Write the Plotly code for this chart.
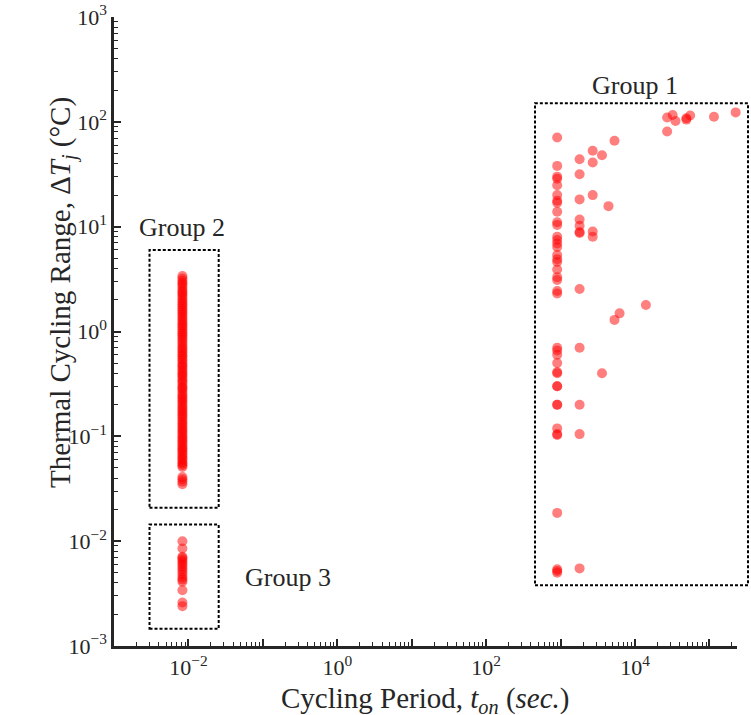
import plotly.graph_objects as go

# ---- Data ----
# Group 1: long cycling periods
g1_x = [900]*40 + [1800]*10 + [2700]*5 + [3600]*2 + [4400] + [5300]*2 + [6200] + [14000] \
       + [27000]*2 + [32000] + [35000] + [49000]*2 + [55000] + [115000] + [225000]
g1_y = [71, 38, 30, 28.6, 24.8, 20, 17.7, 16.9, 13.9, 11, 10.4, 8.0, 7.45, 6.9, 6.4, 5.36, 4.9, 4.6,
        3.9, 3.3, 3.1, 2.43, 2.3, 0.70, 0.66, 0.60, 0.50, 0.41, 0.40, 0.30, 0.30, 0.20, 0.20, 0.119,
        0.105, 0.103, 0.0186, 0.0052, 0.0050, 0.0054,
        44, 31.6, 18.2, 11.7, 10.2, 8.7, 8.9, 2.54, 0.70, 0.105,
        53, 41, 20, 9.0, 8.0,
        48, 0.40,
        15.7,
        66, 1.29,
        1.49,
        1.79,
        110, 81,
        116,
        102,
        108, 105,
        115,
        112,
        123]
g1_extra_x = [1800, 1800]
g1_extra_y = [0.20, 0.0055]

# Group 2: short cycling periods, medium range
g2_y = [0.035, 0.037, 0.039, 0.041, 0.051, 0.053, 0.055, 0.057, 0.060, 0.062, 0.065, 0.068,
        0.071, 0.074, 0.077, 0.080, 0.084, 0.088, 0.092, 0.096, 0.10, 0.105, 0.11, 0.115,
        0.12, 0.126, 0.132, 0.138, 0.145, 0.152, 0.159, 0.166, 0.174, 0.182, 0.19, 0.20,
        0.21, 0.22, 0.23, 0.24, 0.25, 0.265, 0.28, 0.29, 0.30, 0.32, 0.335, 0.35, 0.37,
        0.385, 0.40, 0.42, 0.44, 0.46, 0.48, 0.50, 0.53, 0.55, 0.58, 0.60, 0.63, 0.66, 0.69,
        0.72, 0.76, 0.80, 0.84, 0.88, 0.92, 0.96, 1.0, 1.05, 1.1, 1.15, 1.2, 1.26, 1.32,
        1.38, 1.45, 1.52, 1.59, 1.66, 1.74, 1.82, 1.9, 2.0, 2.1, 2.2, 2.3, 2.4, 2.5, 2.65,
        2.8, 2.9, 3.05, 3.2, 3.38]
g2_x = [0.0083]*len(g2_y)

# Group 3: short cycling periods, small range
g3_y = [0.0024, 0.0026, 0.0034, 0.0041, 0.0043, 0.0045, 0.0048, 0.0051, 0.0054, 0.0057,
        0.0060, 0.0063, 0.0066, 0.0069, 0.0071, 0.0085, 0.0100]
g3_x = [0.0083]*len(g3_y)

x_tickvals = [10.0**k for k in range(-3, 6)]
x_ticktext = ["", "10<sup>−2</sup>", "", "10<sup>0</sup>", "", "10<sup>2</sup>", "", "10<sup>4</sup>", ""]
y_tickvals = [10.0**k for k in range(-3, 4)]
y_ticktext = ["10<sup>−3</sup>", "10<sup>−2</sup>", "10<sup>−1</sup>", "10<sup>0</sup>",
              "10<sup>1</sup>", "10<sup>2</sup>", "10<sup>3</sup>"]

FONT = "Liberation Serif"
RED = "rgba(255,0,0,0.5)"
TXT = "#262626"

fig = go.Figure()
for xs, ys in [(g1_x, g1_y), (g1_extra_x, g1_extra_y), (g2_x, g2_y), (g3_x, g3_y)]:
    fig.add_trace(go.Scatter(x=xs, y=ys, mode="markers",
                             marker=dict(size=10, color=RED, line=dict(width=0)),
                             showlegend=False, cliponaxis=False))

minor_x = [m * 10.0**k for k in range(-3, 6) for m in range(2, 10) if m * 10.0**k < 2.3e5]
minor_y = [m * 10.0**k for k in range(-3, 3) for m in range(2, 10)]
axcol = "#262626"

fig.update_xaxes(type="log", range=[-3, 5.37], tickmode="array", tickvals=x_tickvals,
                 ticktext=x_ticktext, ticks="inside", ticklen=7, tickwidth=1.5, tickcolor=axcol,
                 showline=True, linewidth=2.5, linecolor=axcol, showgrid=False, zeroline=False,
                 automargin=False, ticklabeloverflow="allow",
                 minor=dict(tickmode="array", tickvals=minor_x, ticks="inside", ticklen=4,
                            tickwidth=1.2, tickcolor=axcol, showgrid=False),
                 tickfont=dict(family=FONT, size=22, color=TXT))
fig.update_yaxes(type="log", range=[-3, 3], tickmode="array", tickvals=y_tickvals,
                 ticktext=y_ticktext, ticks="inside", ticklen=7, tickwidth=1.5, tickcolor=axcol,
                 showline=True, linewidth=2.5, linecolor=axcol, showgrid=False, zeroline=False,
                 automargin=False, ticklabeloverflow="allow",
                 minor=dict(tickmode="array", tickvals=minor_y, ticks="inside", ticklen=4,
                            tickwidth=1.2, tickcolor=axcol, showgrid=False),
                 tickfont=dict(family=FONT, size=22, color=TXT))

# Axis titles as annotations for exact placement
fig.add_annotation(xref="paper", yref="paper", x=0.5, y=0, yanchor="middle", yshift=-54,
                   text="Cycling Period, <i>t<sub>on</sub></i> (<i>sec.</i>)", showarrow=False,
                   font=dict(family=FONT, size=29, color=TXT))
fig.add_annotation(xref="paper", yref="paper", x=0, xshift=-72, y=0.562, textangle=-90,
                   text="Thermal Cycling Range, Δ<i>T<sub>j</sub></i> (°C)", showarrow=False,
                   font=dict(family=FONT, size=29, color=TXT))

box_line = dict(color="black", width=2, dash="3px,2px")
# Group 2 and 3 boxes (data coords)
fig.add_shape(type="rect", xref="x", yref="y", x0=0.0030, x1=0.0255, y0=0.0208, y1=6.0, line=box_line)
fig.add_shape(type="rect", xref="x", yref="y", x0=0.0030, x1=0.0255, y0=0.00146, y1=0.0144, line=box_line)
# Group 1 box extends past the axis end
fig.add_shape(type="rect", xref="paper", yref="y", x0=(535-114)/623, x1=(748-114)/623,
              y0=0.0038, y1=150, line=box_line)

ann_font = dict(family=FONT, size=26, color=TXT)
fig.add_annotation(x=4.0, y=2.35, xref="x", yref="y", text="Group 1", showarrow=False, font=ann_font)
fig.add_annotation(x=-2.08, y=0.99, xref="x", yref="y", text="Group 2", showarrow=False, font=ann_font)
fig.add_annotation(x=-0.66, y=-2.35, xref="x", yref="y", text="Group 3", showarrow=False, font=ann_font)

fig.update_layout(width=751, height=715, margin=dict(l=114, r=14, t=17, b=69),
                  plot_bgcolor="white", paper_bgcolor="white")

fig.write_html("out.html", config={"displayModeBar": False},
               post_script="document.body.style.margin='0';document.body.style.overflow='hidden';")
